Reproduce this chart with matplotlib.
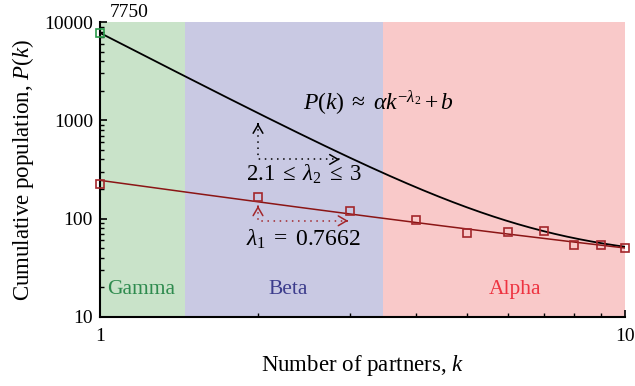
import numpy as np
import matplotlib
matplotlib.use('Agg')
import matplotlib.pyplot as plt
from matplotlib.ticker import NullFormatter

plt.rcParams['font.family'] = ['Liberation Serif', 'DejaVu Serif']
plt.rcParams['mathtext.fontset'] = 'custom'
plt.rcParams['mathtext.rm'] = 'Liberation Serif'
plt.rcParams['mathtext.it'] = 'Liberation Serif:italic'

# data
k_red = [1, 2, 3, 4, 5, 6, 7, 8, 9, 10]
p_red = [225, 167, 120, 96, 72, 73, 75, 54, 54, 50]
k_green = [1]
p_green = [7750]

# fitted models  P(k) = a*k^-lam + b
lam1, a1, b1 = 0.7662, 235, 10
lam2, a2, b2 = 2.75, 7712, 38

# regions
regions = [(1, 1.45, '#c9e3c9', 'Gamma', '#2e8b4e'),
           (1.45, 3.46, '#c9c9e3', 'Beta', '#3c3c8c'),
           (3.46, 10, '#f9c9c9', 'Alpha', '#ee3340')]
region_label_x = [1.2, 2.28, 6.17]

fig = plt.figure(figsize=(6.35, 3.86), dpi=100)
ax = fig.add_axes([0.1575, 0.179, 0.8265, 0.764])

for (x0, x1, c, name, tc), lx in zip(regions, region_label_x):
    ax.axvspan(x0, x1, color=c, lw=0, zorder=0)
    ax.text(lx, 18.8, name, color=tc, fontsize=15.5, ha='center', va='center')

kk = np.logspace(0, 1, 300)
ax.plot(kk, a2 * kk ** (-lam2) + b2, color='black', lw=1.3, zorder=2)
ax.plot(kk, a1 * kk ** (-lam1) + b1, color='#8b1515', lw=1.1, zorder=2)

ax.plot(k_red, p_red, 's', ms=5.5, mfc='none', mec='#a3262b', mew=1.2, zorder=3, clip_on=False)
ax.plot(k_green, p_green, 's', ms=5.5, mfc='none', mec='#2a9a4a', mew=1.2, zorder=3, clip_on=False)

ax.text(1.045, 12630, '7750', fontsize=14, ha='left', va='center')

# dotted arrows
def dotted_arrow(corner, up, right, color):
    ax.plot([up[0], corner[0], right[0]], [up[1], corner[1], right[1]],
            ls=(0, (1, 3)), color=color, lw=1.1, zorder=4)
    ax.annotate('', xy=up, xytext=(up[0], up[1] * 0.92),
                arrowprops=dict(arrowstyle='->,head_length=0.6,head_width=0.35', color=color, lw=1.1))
    ax.annotate('', xy=right, xytext=(right[0] * 0.98, right[1]),
                arrowprops=dict(arrowstyle='->,head_length=0.6,head_width=0.35', color=color, lw=1.1))

dotted_arrow((2.0, 400), (2.0, 930), (2.86, 400), 'black')
dotted_arrow((2.0, 95), (2.0, 135), (2.97, 95), '#a3262b')

ax.text(2.44, 1490, r'$P(k)\;\approx\;\alpha k^{-\lambda_2}+b$', fontsize=17, ha='left', va='center')
ax.text(1.9, 280, r'$2.1\;\leq\;\lambda_2\;\leq\;3$', fontsize=16.5, ha='left', va='center')
ax.text(1.9, 61, r'$\lambda_1\;=\;0.7662$', fontsize=17, ha='left', va='center')

ax.set_xscale('log')
ax.set_yscale('log')
ax.set_xlim(1, 10)
ax.set_ylim(10, 10000)
ax.set_xticks([1, 10])
ax.set_xticklabels(['1', '10'])
ax.xaxis.set_minor_formatter(NullFormatter())
ax.set_yticks([10, 100, 1000, 10000])
ax.set_yticklabels(['10', '100', '1000', '10000'])
ax.yaxis.set_minor_formatter(NullFormatter())
ax.tick_params(which='both', direction='in', labelsize=14)
ax.tick_params(which='major', length=5, width=1.2)
ax.tick_params(which='minor', length=3, width=1)
ax.tick_params(axis='x', pad=8)
ax.tick_params(axis='y', pad=5)
for s in ['top', 'right']:
    ax.spines[s].set_visible(False)
for s in ['left', 'bottom']:
    ax.spines[s].set_linewidth(1.5)

ax.set_xlabel(r'Number of partners, $k$', fontsize=16.5, labelpad=6)
ax.set_ylabel(r'Cumulative population, $P(k)$', fontsize=16.5, labelpad=6)

fig.savefig('out.png', dpi=100)
